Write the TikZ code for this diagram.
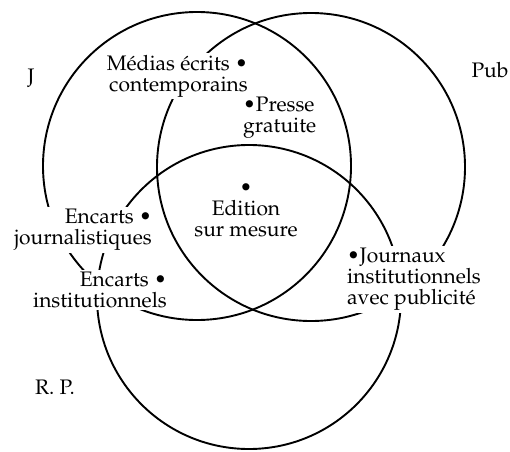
\documentclass[tikz,border=0pt]{standalone}
\usepackage[T1]{fontenc}
\usepackage{mathpazo}
\begin{document}
\begin{tikzpicture}[x=1pt,y=1pt,
  ring/.style={line width=1.9pt},
  lbl/.style={fill=white,inner sep=2pt,font=\fontsize{21}{21}\selectfont},
  set/.style={inner sep=0pt,font=\fontsize{21}{21}\selectfont}]
\useasboundingbox (0,0) rectangle (510,451);
\draw[ring] (197,285) circle (154);
\draw[ring] (311,284) circle (154);
\draw[ring] (249,154) circle (152);
\node[set] (J) at (31,373) {J};
\node[set] (Pub) at (490,381) {Pub};
\node[set] (RP) at (55,64) {R.~P.};
\node[lbl,anchor=east,align=right] (med) at (250,375) {Médias écrits \textbullet\\contemporains};
\node[lbl,anchor=west,align=left] (pres) at (241,333) {\textbullet Presse\\gratuite};
\node[lbl,align=center] (edi) at (246,241) {\textbullet\\Edition\\sur mesure};
\node[lbl,anchor=east,align=right] (ej) at (154,221) {Encarts \textbullet\\journalistiques};
\node[lbl,anchor=east,align=right] (ei) at (169,161.5) {Encarts \textbullet\\institutionnels};
\node[lbl,anchor=west,align=left] (jo) at (345,171.5) {\textbullet Journaux\\institutionnels\\avec publicité};
\end{tikzpicture}
\end{document}
